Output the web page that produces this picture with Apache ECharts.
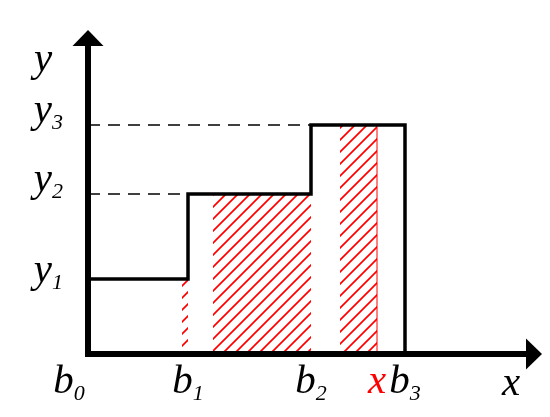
<!DOCTYPE html>
<html><head><meta charset="utf-8">
<script src="https://cdn.jsdelivr.net/npm/echarts@6/dist/echarts.min.js"></script>
<style>html,body{margin:0;padding:0;background:#fff}#c{width:550px;height:417px}</style>
</head><body><div id="c"></div>
<script>
// ---- data (schematic units) ----
const binEdges = [0, 1.00, 2.23, 3.17];          // b0, b1, b2, b3
const levels = [0.75, 1.60, 2.29];               // y1, y2, y3
const xQuery = 2.89;                              // x (red)
const hatchStarts = [0.94, 1.25, 2.52];
const hatchEnds = [1.00, 2.23, 2.89];
const hatchHeights = [0.75, 1.60, 2.29];
const xTickValues = [0, 1.00, 2.23, 2.89, 3.17];
const xTickMain = ['b', 'b', 'b', 'x', 'b'];
const xTickSub = ['0', '1', '2', '', '3'];
const yTickValues = [0.75, 1.60, 2.29];
const yTickMain = ['y', 'y', 'y'];
const yTickSub = ['1', '2', '3'];
const xAxisMax = 4.46, yAxisMax = 3.16;

// ---- build series data ----
const stepData = [
  [binEdges[0], levels[0]], [binEdges[1], levels[0]],
  [binEdges[1], levels[1]], [binEdges[2], levels[1]],
  [binEdges[2], levels[2]], [binEdges[3], levels[2]],
  [binEdges[3], 0]
];
const hatchData = hatchStarts.map((s, i) => [s, hatchEnds[i], hatchHeights[i]]);

function makeHatch() {
  const p = 12;
  const c = document.createElement('canvas');
  c.width = p; c.height = p;
  const g = c.getContext('2d');
  g.strokeStyle = '#ff0000';
  g.lineWidth = 1.7;
  g.beginPath();
  for (let k = -1; k <= 1; k++) {
    g.moveTo(-2, p + 2 + k * p);
    g.lineTo(p + 2, -2 + k * p);
  }
  g.stroke();
  return c;
}
const hatch = makeHatch();

const FONT = 'Liberation Serif';
const main = { fontFamily: FONT, fontStyle: 'italic', fontSize: 41, color: '#000', verticalAlign: 'top' };
const sub = { fontFamily: FONT, fontStyle: 'italic', fontSize: 22, color: '#000', verticalAlign: 'top', padding: [22, 0, 0, 0] };

const chart = echarts.init(document.getElementById('c'), null, { renderer: 'canvas' });
chart.setOption({
  backgroundColor: '#fff',
  animation: false,
  grid: { left: 88, right: 16, top: 38, bottom: 63, containLabel: false, outerBoundsMode: 'none' },
  xAxis: {
    type: 'value', min: 0, max: xAxisMax, z: 10,
    axisLine: { show: true, onZero: false, symbol: ['none', 'triangle'], symbolSize: [31, 16],
      lineStyle: { color: '#000', width: 6, cap: 'square' } },
    axisTick: { show: false }, splitLine: { show: false },
    axisLabel: {
      customValues: xTickValues, margin: 7.5, hideOverlap: false,
      formatter: function (v) {
        const i = xTickValues.indexOf(v);
        if (i < 0) return '';
        if (xTickMain[i] === 'x') return '{r|x}';
        return '{m|' + xTickMain[i] + '}{s|' + xTickSub[i] + '}' + (i === 0 ? '{g| }' : '');
      },
      rich: { m: main, s: sub, r: Object.assign({}, main, { color: '#ff0000' }),
        g: { fontSize: 10, width: 38, verticalAlign: 'top' } }
    },
    name: 'x', nameLocation: 'end', nameGap: -32, nameMoveOverlap: false,
    nameTextStyle: { fontFamily: FONT, fontStyle: 'italic', fontSize: 41, color: '#000',
      verticalAlign: 'top', lineHeight: 60 }
  },
  yAxis: {
    type: 'value', min: 0, max: yAxisMax, z: 10,
    axisLine: { show: true, onZero: false, symbol: ['none', 'triangle'], symbolSize: [31, 16],
      lineStyle: { color: '#000', width: 6, cap: 'square' } },
    axisTick: { show: false }, splitLine: { show: false },
    axisLabel: {
      customValues: yTickValues, margin: 25, hideOverlap: false,
      formatter: function (v) {
        const i = yTickValues.indexOf(v);
        if (i < 0) return '';
        return '{' + (i === 0 ? 'm1' : 'm') + '|' + yTickMain[i] + '}{s|' + yTickSub[i] + '}';
      },
      rich: { m: Object.assign({}, main, { padding: [0, 0, 28, 0] }),
        m1: Object.assign({}, main, { padding: [0, 0, 16, 0] }), s: sub }
    },
    name: 'y', nameLocation: 'end', nameGap: -43, nameMoveOverlap: false,
    nameTextStyle: { fontFamily: FONT, fontStyle: 'italic', fontSize: 41, color: '#000', padding: [0, 90, 0, 0] }
  },
  series: [
    {
      type: 'custom', z: 1, silent: true,
      renderItem: function (params, api) {
        const x0 = api.value(0), x1 = api.value(1), h = api.value(2);
        const tl = api.coord([x0, h]), br = api.coord([x1, 0]);
        const children = [{ type: 'rect',
          shape: { x: tl[0], y: tl[1], width: br[0] - tl[0], height: br[1] - tl[1] },
          style: { fill: { image: hatch, repeat: 'repeat' } } }];
        if (x1 === xQuery) {
          children.push({ type: 'line', shape: { x1: br[0], y1: tl[1], x2: br[0], y2: br[1] },
            style: { stroke: '#ff0000', lineWidth: 1 } });
        }
        return { type: 'group', children: children };
      },
      data: hatchData
    },
    {
      type: 'line', z: 3, silent: true, symbol: 'none',
      lineStyle: { color: '#000', width: 1.5, type: [12, 8] },
      data: [[binEdges[0], levels[1]], [binEdges[1], levels[1]]]
    },
    {
      type: 'line', z: 3, silent: true, symbol: 'none',
      lineStyle: { color: '#000', width: 1.5, type: [12, 8] },
      data: [[binEdges[0], levels[2]], [binEdges[2], levels[2]]]
    },
    {
      type: 'line', z: 4, silent: true, symbol: 'none',
      lineStyle: { color: '#000', width: 3.5, join: 'miter' },
      data: stepData
    }
  ]
});
</script>
</body></html>
